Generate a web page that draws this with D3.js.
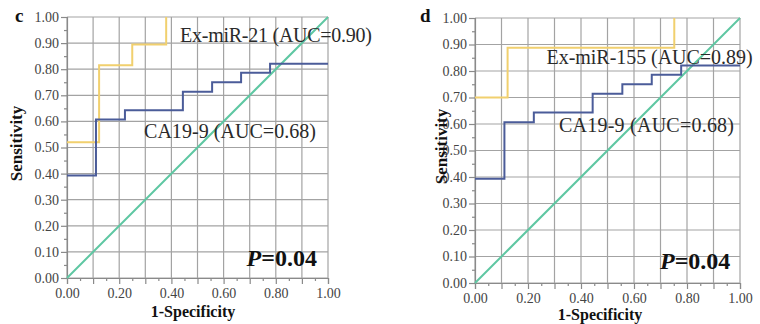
<!DOCTYPE html>
<html>
<head>
<meta charset="utf-8">
<script src="https://cdn.jsdelivr.net/npm/d3@7"></script>
<style>
  body { margin: 0; background: #fff; }
  svg { display: block; }
  text { font-family: "Liberation Serif", "Times New Roman", serif; }
</style>
</head>
<body>
<svg id="chart" width="760" height="324"></svg>
<script>
// ROC points (1-specificity, sensitivity)
const miR21Fpr = [0, 0.123, 0.25, 0.38];
const miR21Tpr = [0.52, 0.815, 0.895, 1.0];
const miR155Fpr = [0, 0.123, 0.752];
const miR155Tpr = [0.70, 0.888, 1.0];
const ca199Fpr = [0, 0.111, 0.222, 0.444, 0.556, 0.667, 0.778, 1.0];
const ca199Tpr = [0.393, 0.607, 0.643, 0.714, 0.75, 0.786, 0.821, 0.821];
const refLine = [0, 1];

const tickLabels = ['0.00', '0.20', '0.40', '0.60', '0.80', '1.00'];
const yTickLabels = ['0.00', '0.10', '0.20', '0.30', '0.40', '0.50', '0.60', '0.70', '0.80', '0.90', '1.00'];

const panelLetters = ['c', 'd'];
const markerNames = ['Ex-miR-21 (AUC=0.90)', 'Ex-miR-155 (AUC=0.89)'];
const caName = 'CA19-9 (AUC=0.68)';
const pValue = '0.04';

const colors = { marker: '#f1d06e', ca: '#4b5c99', ref: '#5ec7a2', grid: '#a3a3a3', axis: '#8a8a8a', tick: '#444', text: '#2a2a2a' };

const svg = d3.select('#chart');

function toPoints(xs, ys) {
    return xs.map((d, i) => [d, ys[i]]);
}

function drawPanel(cfg) {
    const x = d3.scaleLinear().domain([0, 1]).range([cfg.left, cfg.right]);
    const y = d3.scaleLinear().domain([0, 1]).range([cfg.bottom, cfg.top]);
    const g = svg.append('g');

    const tenths = d3.range(0, 11).map(d => d / 10);
    const halves = d3.range(0, 10).map(d => d / 10 + 0.05);

    // grid
    g.selectAll('.vg').data(tenths).enter().append('line')
        .attr('x1', d => x(d)).attr('x2', d => x(d))
        .attr('y1', y(0)).attr('y2', y(1))
        .attr('stroke', colors.grid).attr('stroke-width', 1.2);
    g.selectAll('.hg').data(tenths).enter().append('line')
        .attr('y1', d => y(d)).attr('y2', d => y(d))
        .attr('x1', x(0)).attr('x2', x(1))
        .attr('stroke', colors.grid).attr('stroke-width', 1.2);

    // y axis
    const yAxis = d3.axisLeft(y).tickValues(tenths).tickSize(6).tickPadding(2)
        .tickFormat((d, i) => yTickLabels[i]);
    const ya = g.append('g').attr('transform', `translate(${x(0)},0)`).call(yAxis);
    g.append('g').attr('transform', `translate(${x(0)},0)`)
        .call(d3.axisLeft(y).tickValues(halves).tickSize(3).tickFormat(''))
        .call(s => s.select('.domain').remove());

    // x axis
    const xAxis = d3.axisBottom(x).tickValues(tenths).tickSize(6).tickPadding(4)
        .tickFormat((d, i) => i % 2 === 0 ? tickLabels[i / 2] : '');
    const xa = g.append('g').attr('transform', `translate(0,${y(0)})`).call(xAxis);
    g.append('g').attr('transform', `translate(0,${y(0)})`)
        .call(d3.axisBottom(x).tickValues(halves).tickSize(3).tickFormat(''))
        .call(s => s.select('.domain').remove());

    g.selectAll('.domain, .tick line').attr('stroke', colors.axis).attr('stroke-width', 1.2);
    [ya, xa].forEach(a => a.selectAll('.tick text')
        .attr('fill', colors.tick)
        .style('font-size', '14px')
        .style('font-family', '"Liberation Serif", serif'));

    const line = d3.line().x(d => x(d[0])).y(d => y(d[1]));
    const step = d3.line().x(d => x(d[0])).y(d => y(d[1])).curve(d3.curveStepAfter);

    g.append('path').datum(toPoints(refLine, refLine)).attr('d', line)
        .attr('fill', 'none').attr('stroke', colors.ref).attr('stroke-width', 2);
    g.append('path').datum(toPoints(cfg.markerFpr, cfg.markerTpr)).attr('d', step)
        .attr('fill', 'none').attr('stroke', colors.marker).attr('stroke-width', 2);
    g.append('path').datum(toPoints(ca199Fpr, ca199Tpr)).attr('d', step)
        .attr('fill', 'none').attr('stroke', colors.ca).attr('stroke-width', 2);

    // labels
    g.append('text').attr('x', x(cfg.markerLabel[0])).attr('y', y(cfg.markerLabel[1]))
        .attr('textLength', cfg.markerWidth).attr('lengthAdjust', 'spacing')
        .attr('fill', colors.text).style('font-size', '20px').text(cfg.markerName);
    g.append('text').attr('x', x(cfg.caLabel[0])).attr('y', y(cfg.caLabel[1]))
        .attr('textLength', cfg.caWidth).attr('lengthAdjust', 'spacing')
        .attr('fill', colors.text).style('font-size', '20px').text(caName);

    const p = g.append('text').attr('x', x(cfg.pLabel[0])).attr('y', y(cfg.pLabel[1]))
        .attr('fill', '#111').style('font-size', '24px').style('font-weight', 'bold');
    p.append('tspan').style('font-style', 'italic').text('P');
    p.append('tspan').text('=' + pValue);

    // axis titles
    g.append('text')
        .attr('transform', `translate(${cfg.yTitleX},${(cfg.top + cfg.bottom) / 2 - 4}) rotate(-90)`)
        .attr('text-anchor', 'middle').attr('fill', '#111')
        .style('font-size', '17px').style('font-weight', 'bold').text('Sensitivity');
    g.append('text').attr('x', cfg.xTitleX).attr('y', cfg.xTitleY)
        .attr('text-anchor', 'middle').attr('fill', '#111')
        .style('font-size', '16px').style('font-weight', 'bold').text('1-Specificity');

    g.append('text').attr('x', cfg.letterX).attr('y', 22)
        .attr('fill', '#111').style('font-size', '19px').style('font-weight', 'bold').text(cfg.letter);
}

drawPanel({
    left: 67, right: 328, top: 17, bottom: 278,
    markerFpr: miR21Fpr, markerTpr: miR21Tpr, markerName: markerNames[0],
    markerLabel: [0.433, 0.905], caLabel: [0.295, 0.535], pLabel: [0.688, 0.046],
    markerWidth: 192, caWidth: 172,
    yTitleX: 22, xTitleX: 193, xTitleY: 317, letter: panelLetters[0], letterX: 15
});

drawPanel({
    left: 475, right: 740, top: 18, bottom: 283,
    markerFpr: miR155Fpr, markerTpr: miR155Tpr, markerName: markerNames[1],
    markerLabel: [0.27, 0.826], caLabel: [0.317, 0.571], pLabel: [0.698, 0.052],
    markerWidth: 206, caWidth: 175,
    yTitleX: 447, xTitleX: 600, xTitleY: 320, letter: panelLetters[1], letterX: 420
});
</script>
</body>
</html>
